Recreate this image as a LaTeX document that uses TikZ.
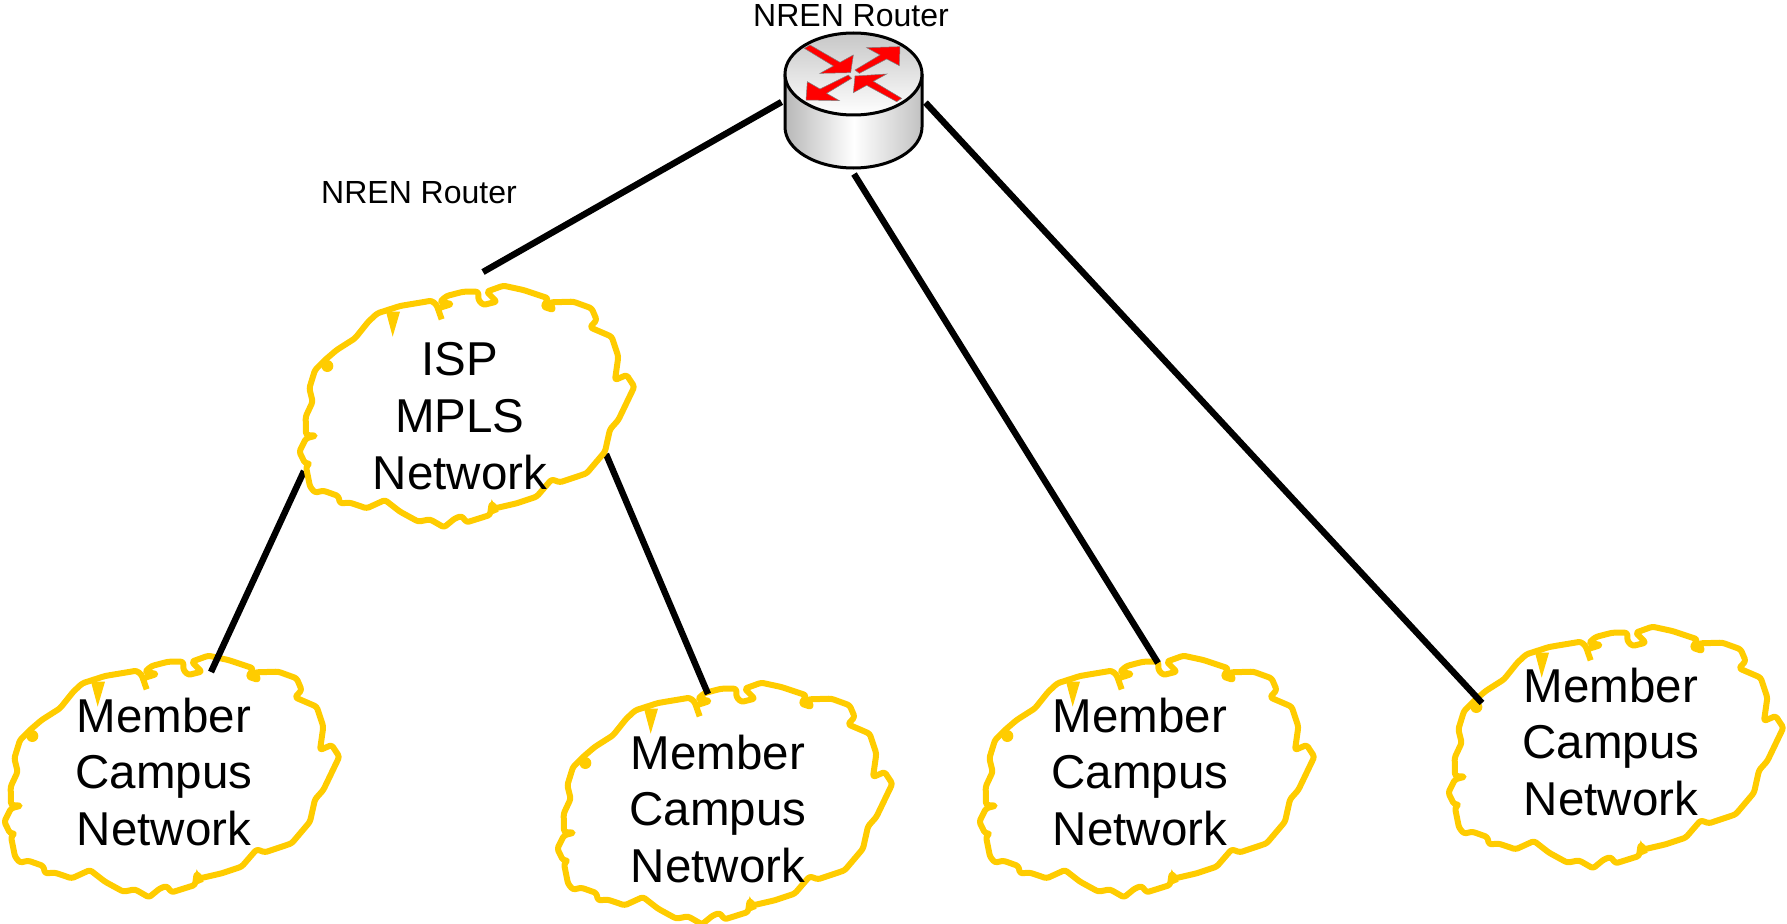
\documentclass[tikz,border=0pt]{standalone}
\usepackage{fontspec}
\setmainfont{Liberation Sans}
\definecolor{cloudy}{HTML}{FFCC00}
\newcommand{\mycloud}[2]{%
\begin{scope}[shift={(#1,#2)},x=0.33333pt,y=-0.33333pt]
\draw[cloudline] (455,148) -- (440,105) -- (425,92) -- (330,108) -- (262,130) -- (235,155) -- (195,205) -- (140,240) -- (105,270) -- (75,300) -- (58,355) -- (68,395) -- (47,440) -- (48,495) -- (78,497) -- (48,505) -- (28,545) -- (45,580) -- (60,580) -- (48,590) -- (60,650) -- (75,668) -- (100,662) -- (145,678) -- (150,700) -- (180,698) -- (230,715) -- (285,690) -- (330,725) -- (385,755) -- (420,748) -- (462,772) -- (495,745) -- (515,738) -- (530,757) -- (600,735) -- (605,700) -- (615,715) -- (680,700) -- (740,680) -- (785,628) -- (810,637) -- (890,610) -- (945,545) -- (960,478) -- (985,450) -- (1033,350) -- (1010,315) -- (975,330) -- (985,260) -- (965,200) -- (900,172) -- (920,150) -- (905,115) -- (850,95) -- (780,97) -- (790,120) -- (760,110) -- (775,85) -- (700,60) -- (640,47) -- (590,65) -- (620,95) -- (580,105) -- (565,90) -- (565,65) -- (520,65) -- (470,78) -- (450,95) -- (485,102) -- (445,115);
\fill[cloudy] (112,288) circle[radius=18];
\fill[cloudy] (288,125) -- (330,125) -- (308,200) -- cycle;
\fill[cloudy] (590,740) -- (605,688) -- (626,725) -- cycle;
\end{scope}}
\newcommand{\redarrow}[7]{\draw[arrowshape] #1 -- #2 -- #3 -- #4 -- #5 -- #6 -- #7 -- cycle;}
\tikzset{
 cloudline/.style={draw=cloudy,line width=6pt,rounded corners=2.5pt,line join=round},
 netlabel/.style={align=center,inner sep=0pt,font=\fontsize{47.5}{56.7}\selectfont},
 routerlabel/.style={inner sep=0pt,font=\fontsize{32}{36}\selectfont},
 link/.style={line width=6.4pt,black},
 arrowshape/.style={fill=red,draw=black!50,line width=0.5pt,line join=miter},
 outline/.style={draw=black,line width=3pt}
}
\begin{document}
\begin{tikzpicture}[x=1pt,y=-1pt]
\useasboundingbox (0,0) rectangle (1787,923);
% member clouds
\mycloud{-5}{640}
\mycloud{548}{667}
\mycloud{970}{640}
\mycloud{1439}{611}
% router
\begin{scope}
\shade[left color=black!28,right color=black!24,middle color=white] (785,74) -- (785,127) arc[start angle=180,end angle=0,x radius=68.5,y radius=41] -- (922,74) arc[start angle=0,end angle=-180,x radius=68.5,y radius=41] -- cycle;
\draw[outline] (785,74) -- (785,127) arc[start angle=180,end angle=0,x radius=68.5,y radius=41] -- (922,74);
\shade[top color=black!22,bottom color=white] (853.5,74) ellipse[x radius=68.5,y radius=41];
\draw[outline] (853.5,74) ellipse[x radius=68.5,y radius=41];
\begin{scope}[shift={(740,0)},x=0.33333pt,y=-0.33333pt]
\redarrow{(193,145)}{(210,135)}{(300,187)}{(340,165)}{(332,218)}{(240,220)}{(280,198)}
\redarrow{(345,210)}{(420,165)}{(380,143)}{(480,140)}{(478,197)}{(440,177)}{(358,220)}
\redarrow{(325,225)}{(240,267)}{(202,245)}{(198,300)}{(298,302)}{(260,280)}{(335,235)}
\redarrow{(485,295)}{(400,244)}{(440,222)}{(345,228)}{(340,278)}{(380,256)}{(470,305)}
\end{scope}
\end{scope}
\coordinate (r1) at (781.5,102);
\coordinate (r2) at (854,174);
\coordinate (r3) at (925.5,102.6);
\coordinate (isptop) at (483,272);
\coordinate (ispleft) at (304,471);
\coordinate (ispright) at (606,454);
\coordinate (m1) at (211,672);
\coordinate (m2) at (708,694);
\coordinate (m3) at (1158,663);
\coordinate (m4) at (1482,703);
\draw[link] (r1) -- (isptop);
\draw[link] (r2) -- (m3);
\draw[link] (r3) -- (m4);
\draw[link] (ispleft) -- (m1);
\draw[link] (ispright) -- (m2);
% ISP cloud
\mycloud{290}{270}
% labels
\node[netlabel] (isp) at (460,416) {ISP\\MPLS\\Network};
\node[netlabel] (c1) at (164,772) {Member\\Campus\\Network};
\node[netlabel] (c2) at (718,809) {Member\\Campus\\Network};
\node[netlabel] (c3) at (1140,772) {Member\\Campus\\Network};
\node[netlabel] (c4) at (1611,742) {Member\\Campus\\Network};
\node[routerlabel] (rl1) at (851,16) {NREN Router};
\node[routerlabel] (rl2) at (419,193) {NREN Router};
\end{tikzpicture}
\end{document}
